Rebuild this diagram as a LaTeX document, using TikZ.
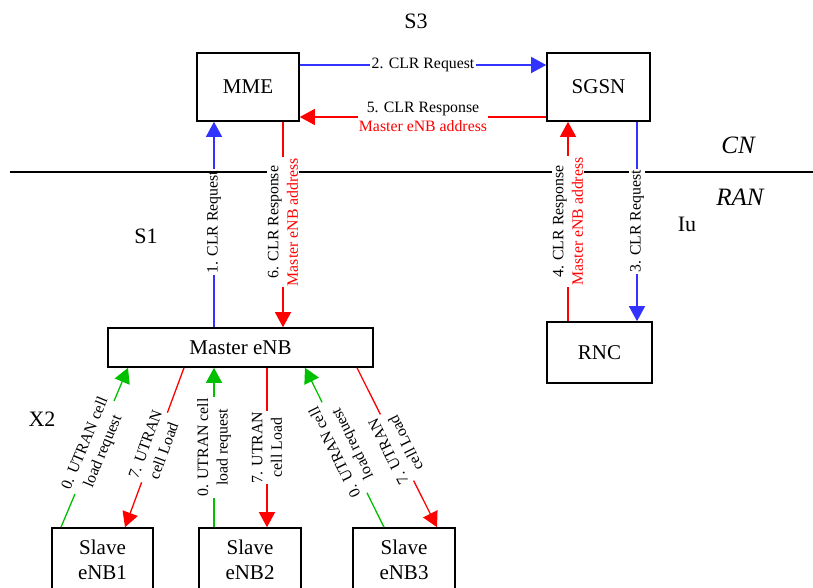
\documentclass[tikz,border=0pt]{standalone}
\usepackage{fontspec}
\setmainfont{Liberation Serif}
\usetikzlibrary{arrows.meta}
\definecolor{sigblue}{RGB}{51,51,255}
\definecolor{sigred}{RGB}{255,0,0}
\definecolor{siggreen}{RGB}{0,192,0}
\begin{document}
\begin{tikzpicture}[x=1pt,y=-1pt,
  entity/.style={draw=black,line width=1.6pt,fill=white,font=\fontsize{21}{25}\selectfont,align=center,inner sep=0pt},
  msg/.style={line width=1.3pt,-{Triangle[length=15pt,width=16pt]}},
  req/.style={msg,draw=sigblue},
  rsp/.style={msg,draw=sigred},
  ld/.style={msg,draw=siggreen},
  lbl/.style={fill=white,inner sep=1.2pt,font=\fontsize{15.8}{19.5}\selectfont,align=center,text=black},
  iface/.style={font=\fontsize{22}{26}\selectfont},
  netdomain/.style={font=\fontsize{25}{30}\selectfont\itshape},
]
\useasboundingbox (0,0) rectangle (813,588);
\clip (0,0) rectangle (813,588);

% core network entities
\node[entity,minimum width=102pt,minimum height=68pt] (mme)  at (248,87)   {MME};
\node[entity,minimum width=103pt,minimum height=68pt] (sgsn) at (598.5,87) {SGSN};
% radio network entities
\node[entity,minimum width=105pt,minimum height=61pt] (rnc)    at (599.5,352.5) {RNC};
\node[entity,minimum width=265pt,minimum height=39pt] (master) at (240.5,347.5) {Master eNB};
\node[entity,minimum width=101pt,minimum height=64pt] (slave1) at (102.5,560) {Slave\\eNB1};
\node[entity,minimum width=102pt,minimum height=64pt] (slave2) at (250,560)   {Slave\\eNB2};
\node[entity,minimum width=102pt,minimum height=64pt] (slave3) at (404,560)   {Slave\\eNB3};

% interface and domain labels
\node[iface] (s3) at (416,21)  {S3};
\node[iface] (s1) at (146,236) {S1};
\node[iface] (iu) at (687,224) {Iu};
\node[iface] (x2) at (42,419)  {X2};
\node[netdomain] (cn)  at (738,145) {CN};
\node[netdomain] (ran) at (740,197) {RAN};

% step 1 (lies under the CN/RAN border)
\draw[req] ([xshift=-26.5pt]master.north) -- node[lbl,pos=0.512,rotate=90] {1. CLR Request} ([xshift=-34pt]mme.south);

% CN / RAN border
\coordinate (cnL) at (10,172);
\coordinate (cnR) at (813,172);
\draw[line width=1.4pt] (cnL) -- (cnR);

% S3 exchange
\draw[req] ([yshift=22pt]mme.east) -- node[lbl] {2. CLR Request} ([yshift=22pt]sgsn.west);
\draw[rsp] ([yshift=-30pt]sgsn.west) -- node[lbl] {5. CLR Response\\\textcolor{sigred}{Master eNB address}} ([yshift=-30pt]mme.east);

% Iu exchange
\draw[req] ([xshift=38.5pt]sgsn.south) -- node[lbl,rotate=90] {3. CLR Request} ([xshift=37.5pt]rnc.north);
\draw[rsp] ([xshift=-31.5pt]rnc.north) -- node[lbl,rotate=90] {4. CLR Response\\\textcolor{sigred}{Master eNB address}} ([xshift=-30.5pt]sgsn.south);

% S1 response
\draw[rsp] ([xshift=35pt]mme.south) -- node[lbl,pos=0.488,rotate=90] {6. CLR Response\\\textcolor{sigred}{Master eNB address}} ([xshift=42.5pt]master.north);

% X2 load exchange
\draw[ld]  ([xshift=-41.5pt]slave1.north) -- node[lbl,rotate=67.4] {0. UTRAN cell\\load request} ([xshift=-112.5pt]master.south);
\draw[rsp] ([xshift=-56.5pt]master.south) -- node[lbl,rotate=69.9] {7. UTRAN\\cell Load} ([xshift=22.5pt]slave1.north);
\draw[ld]  ([xshift=-36pt]slave2.north) -- node[lbl,rotate=90] {0. UTRAN cell\\load request} ([xshift=-26.5pt]master.south);
\draw[rsp] ([xshift=26.5pt]master.south) -- node[lbl,rotate=90] {7. UTRAN\\cell Load} ([xshift=17pt]slave2.north);
\draw[ld]  ([xshift=-20pt]slave3.north) -- node[lbl,rotate=116.1] {0. UTRAN cell\\load request} ([xshift=64.5pt]master.south);
\draw[rsp] ([xshift=116.5pt]master.south) -- node[lbl,rotate=116.4] {7. UTRAN\\cell Load} ([xshift=33pt]slave3.north);
\end{tikzpicture}
\end{document}
